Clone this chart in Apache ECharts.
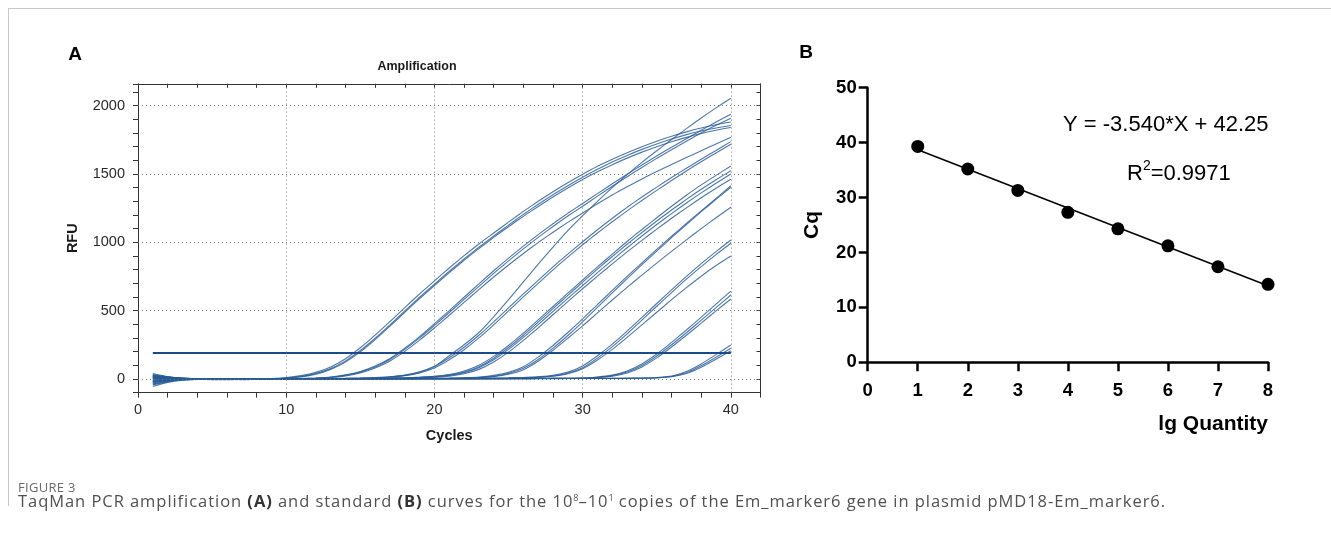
<!DOCTYPE html>
<html>
<head>
<meta charset="utf-8">
<title>Figure 3</title>
<script src="https://cdn.jsdelivr.net/npm/echarts@6/dist/echarts.min.js"></script>
<style>
  html, body { margin: 0; padding: 0; background: #fff; }
  #page { position: relative; width: 1331px; height: 533px; overflow: hidden; }
  #chart { position: absolute; left: 0; top: 0; width: 1331px; height: 533px; }
  #frame { position: absolute; left: 8px; top: 8px; width: 1330px; height: 497px; border-top: 1px solid #c8c8c8; border-left: 1px solid #c8c8c8; pointer-events: none; }
  #figure-label { position: absolute; left: 18px; top: 478px; font: 13px "Open Sans", sans-serif; color: #6a6a6a; letter-spacing: 0.3px; }
  #caption { position: absolute; left: 18px; top: 489px; font: 16.5px "Open Sans", sans-serif; color: #505050; letter-spacing: 0.95px; white-space: nowrap; }
  #caption b { color: #333; }
  #caption sup { font-size: 9px; vertical-align: 6px; line-height: 0; letter-spacing: 0; }
</style>
</head>
<body>
<div id="page">
  <div id="chart"></div>
  <div id="frame"></div>
  <div id="figure-label">FIGURE 3</div>
  <div id="caption">TaqMan PCR amplification <b>(A)</b> and standard <b>(B)</b> curves for the 10<sup>8</sup>–10<sup>1</sup> copies of the Em_marker6 gene in plasmid pMD18-Em_marker6.</div>
</div>
<script>
(() => {
    // panel A: amplification curves, RFU per cycle (cycles 1..40), 3-4 replicates per dilution
    const cycles = [1, 2, 3, 4, 5, 6, 7, 8, 9, 10, 11, 12, 13, 14, 15, 16, 17, 18, 19, 20,
        21, 22, 23, 24, 25, 26, 27, 28, 29, 30, 31, 32, 33, 34, 35, 36, 37, 38, 39, 40];
    const rfuCopies1e8 = [
        [28, 14, 5, 1, -2, -4, -3, -1, 3, 10, 24, 48, 88, 148, 228, 320, 420, 522, 622, 718,
            812, 902, 988, 1068, 1148, 1226, 1300, 1370, 1436, 1498, 1556, 1608, 1656, 1700, 1740, 1776, 1808, 1836, 1860, 1880],
        [-20, -8, -2, 0, -1, -3, -4, -2, 1, 7, 18, 40, 76, 132, 208, 298, 396, 498, 598, 694,
            788, 878, 964, 1046, 1126, 1204, 1278, 1348, 1414, 1476, 1534, 1588, 1636, 1680, 1720, 1756, 1788, 1814, 1836, 1855],
        [8, 3, 0, -2, -5, -6, -4, -2, 0, 5, 15, 35, 70, 124, 198, 288, 386, 488, 588, 684,
            778, 868, 954, 1036, 1114, 1190, 1262, 1332, 1398, 1460, 1516, 1568, 1616, 1660, 1700, 1736, 1768, 1796, 1820, 1840]
    ];
    const rfuCopies1e7 = [
        [-35, -15, -5, -1, 1, 0, -2, -3, -2, 0, 3, 7, 14, 30, 55, 95, 150, 225, 310, 405,
            500, 598, 696, 792, 884, 972, 1056, 1136, 1212, 1284, 1356, 1428, 1498, 1566, 1632, 1696, 1758, 1820, 1880, 1937],
        [20, 9, 3, 0, -1, -2, -3, -2, -1, 1, 3, 6, 12, 26, 50, 88, 142, 216, 300, 392,
            486, 582, 678, 772, 864, 952, 1036, 1116, 1192, 1264, 1338, 1410, 1480, 1548, 1614, 1678, 1740, 1800, 1856, 1908],
        [-5, -3, -1, 0, -2, -4, -5, -3, -1, 0, 2, 5, 10, 22, 44, 80, 132, 202, 284, 374,
            466, 560, 654, 746, 834, 918, 998, 1074, 1146, 1214, 1282, 1346, 1406, 1464, 1518, 1570, 1620, 1670, 1720, 1769]
    ];
    const rfuCopies1e6 = [
        [33, 16, 6, 2, 0, -2, -3, -3, -2, -1, 0, 1, 2, 3, 5, 8, 14, 26, 48, 90,
            170, 250, 340, 455, 580, 710, 840, 965, 1085, 1195, 1300, 1400, 1495, 1585, 1670, 1752, 1832, 1910, 1984, 2054],
        [-45, -20, -7, -2, 0, 1, 0, -1, -2, -1, 0, 1, 2, 4, 6, 10, 16, 28, 52, 92,
            155, 232, 320, 418, 520, 622, 722, 820, 914, 1004, 1092, 1176, 1256, 1332, 1404, 1474, 1542, 1608, 1672, 1737],
        [12, 5, 1, -1, -3, -4, -3, -2, 0, 1, 2, 2, 3, 4, 6, 9, 14, 24, 44, 80,
            140, 214, 300, 396, 498, 600, 700, 798, 892, 982, 1068, 1150, 1230, 1306, 1380, 1452, 1522, 1590, 1654, 1717]
    ];
    const rfuCopies1e5 = [
        [-25, -10, -3, 0, 1, 0, -1, -2, -1, 0, 1, 1, 2, 2, 3, 4, 6, 9, 13, 20,
            32, 58, 100, 165, 245, 335, 432, 530, 628, 724, 820, 914, 1006, 1094, 1180, 1264, 1344, 1420, 1490, 1558],
        [5, 2, 0, -1, -2, -3, -2, -1, 0, 0, 1, 1, 2, 2, 3, 3, 5, 7, 11, 17,
            28, 50, 90, 152, 230, 320, 416, 514, 612, 708, 804, 896, 986, 1072, 1156, 1236, 1314, 1388, 1458, 1524],
        [-55, -25, -9, -3, -1, -2, -3, -3, -2, -1, 0, 0, 1, 1, 2, 2, 4, 6, 10, 15,
            25, 45, 82, 140, 216, 304, 398, 494, 590, 684, 778, 870, 960, 1046, 1130, 1210, 1288, 1362, 1432, 1500],
        [15, 6, 2, 0, -1, -1, 0, 0, -1, -1, 0, 0, 1, 1, 2, 3, 4, 5, 8, 12,
            20, 38, 70, 124, 196, 282, 374, 470, 566, 660, 752, 842, 930, 1014, 1096, 1176, 1252, 1326, 1396, 1461]
    ];
    const rfuCopies1e4 = [
        [22, 10, 3, 1, 0, -1, -1, 0, 1, 1, 1, 1, 1, 1, 2, 2, 3, 3, 4, 5,
            6, 9, 14, 26, 48, 90, 160, 245, 340, 440, 544, 648, 750, 850, 948, 1044, 1138, 1230, 1322, 1414],
        [-12, -5, -1, 0, 0, -1, -2, -2, -1, 0, 0, 1, 1, 1, 2, 2, 2, 3, 3, 4,
            5, 7, 11, 20, 40, 78, 142, 225, 318, 418, 524, 630, 734, 836, 936, 1034, 1130, 1224, 1314, 1403],
        [40, 18, 6, 2, 0, 0, 1, 1, 0, 0, 0, 0, 1, 1, 1, 2, 2, 2, 3, 3,
            4, 6, 9, 17, 34, 68, 130, 210, 298, 388, 484, 578, 670, 760, 848, 934, 1018, 1100, 1180, 1256]
    ];
    const rfuCopies1e3 = [
        [-30, -12, -4, -1, 0, 0, -1, -1, 0, 1, 1, 1, 0, 0, 1, 1, 2, 2, 2, 3,
            3, 4, 5, 6, 8, 11, 16, 26, 50, 95, 170, 255, 350, 450, 552, 652, 750, 844, 932, 1017],
        [8, 3, 1, 0, -1, -2, -2, -1, 0, 0, 1, 1, 1, 1, 1, 2, 2, 2, 3, 3,
            3, 4, 4, 5, 6, 9, 13, 22, 42, 82, 152, 236, 330, 430, 532, 632, 730, 822, 910, 993],
        [-18, -7, -2, 0, 1, 1, 0, -1, -2, -2, -1, -1, 0, 0, 1, 1, 1, 2, 2, 2,
            3, 3, 4, 5, 6, 8, 12, 20, 38, 74, 138, 216, 304, 396, 488, 580, 668, 752, 830, 900]
    ];
    const rfuCopies1e2 = [
        [26, 12, 4, 1, 0, -1, -1, 0, 0, 1, 1, 1, 1, 0, 0, 0, 1, 1, 1, 2,
            2, 2, 3, 3, 3, 4, 4, 5, 5, 6, 14, 28, 58, 110, 182, 268, 358, 452, 548, 643],
        [-8, -3, -1, 0, 0, 0, -1, -1, -1, 0, 0, 0, 1, 1, 1, 1, 1, 1, 2, 2,
            2, 2, 2, 3, 3, 3, 4, 4, 5, 6, 12, 24, 50, 98, 168, 250, 338, 430, 522, 614],
        [-40, -18, -6, -2, -1, -1, -2, -2, -1, 0, 0, 0, 0, 1, 1, 1, 1, 1, 1, 2,
            2, 2, 2, 2, 3, 3, 3, 4, 4, 5, 10, 20, 44, 88, 154, 234, 320, 408, 498, 585]
    ];
    const rfuCopies1e1 = [
        [18, 8, 2, 0, -1, -2, -1, 0, 0, 0, 1, 1, 1, 0, 0, 0, 0, 1, 1, 1,
            1, 1, 2, 2, 2, 2, 3, 3, 3, 3, 4, 4, 5, 7, 11, 22, 55, 110, 178, 248],
        [-22, -9, -3, -1, 0, 0, 0, -1, -1, -1, 0, 0, 0, 0, 1, 1, 1, 1, 1, 1,
            1, 2, 2, 2, 2, 2, 3, 3, 3, 3, 3, 4, 5, 6, 9, 18, 46, 96, 158, 224],
        [2, 1, 0, 0, -1, -1, -1, -1, 0, 0, 0, 0, 1, 1, 1, 1, 1, 1, 1, 1,
            1, 1, 1, 2, 2, 2, 2, 2, 3, 3, 3, 3, 4, 5, 8, 16, 40, 86, 144, 206]
    ];
    const thresholdLine = [[1, 190], [40, 190]];
    const gridCycles = [10, 20, 30, 40];
    const gridRfu = [0, 500, 1000, 1500, 2000];

    // panel B: standard curve
    const lgQuantity = [1, 2, 3, 4, 5, 6, 7, 8];
    const cqValues = [39.3, 35.2, 31.3, 27.3, 24.3, 21.2, 17.4, 14.2];
    const fitLine = [[1, 38.71], [8, 13.93]];
    const equationText = 'Y = -3.540*X + 42.25';
    const rSquaredText = '0.9971';

    const fontFamily = '"Liberation Sans", Arial, sans-serif';
    const curveColor = 'rgba(38, 90, 150, 0.82)';
    const allCurves = [].concat(rfuCopies1e8, rfuCopies1e7, rfuCopies1e6, rfuCopies1e5,
        rfuCopies1e4, rfuCopies1e3, rfuCopies1e2, rfuCopies1e1);

    function toPoints(values) {
        return values.map((value, index) => [cycles[index], value]);
    }

    const curveSeries = allCurves.map((values) => ({
        type: 'line',
        xAxisIndex: 0,
        yAxisIndex: 0,
        data: toPoints(values),
        showSymbol: false,
        smooth: 0.2,
        silent: true,
        z: 3,
        lineStyle: { color: curveColor, width: 1.1 }
    }));

    const chart = echarts.init(document.querySelector('#chart'), null, { renderer: 'canvas' });
    chart.setOption({
        animation: false,
        backgroundColor: 'transparent',
        grid: [
            { left: 138, top: 83.8, width: 622.5, height: 308.8, containLabel: false, outerBoundsMode: 'none' },
            { left: 867.7, top: 87.7, width: 400.3, height: 274.6, containLabel: false, outerBoundsMode: 'none' }
        ],
        xAxis: [
            {
                gridIndex: 0,
                type: 'value',
                position: 'bottom',
                min: 0,
                max: 42,
                interval: 2,
                axisLine: { show: true, onZero: false, lineStyle: { color: '#333', width: 1 } },
                axisTick: { show: true, length: 5, lineStyle: { color: '#333' } },
                axisLabel: {
                    formatter: (v) => (v % 10 === 0 ? String(v) : ''),
                    margin: 10,
                    fontSize: 14.5,
                    color: '#2a2a2a',
                    fontFamily
                },
                splitLine: { show: false },
                name: 'Cycles',
                nameLocation: 'middle',
                nameGap: 36,
                nameTextStyle: { fontSize: 14.5, fontWeight: 'bold', color: '#1a1a1a', fontFamily }
            },
            {
                gridIndex: 0,
                type: 'value',
                position: 'top',
                min: 0,
                max: 42,
                interval: 2,
                axisLine: { show: true, onZero: false, lineStyle: { color: '#333', width: 1 } },
                axisTick: { show: true, inside: true, length: 4, lineStyle: { color: '#333' } },
                axisLabel: { show: false },
                splitLine: { show: false }
            },
            {
                gridIndex: 1,
                type: 'value',
                min: 0,
                max: 8,
                interval: 1,
                axisLine: { show: true, onZero: false, lineStyle: { color: '#000', width: 2.5 } },
                axisTick: { show: true, length: 9, lineStyle: { color: '#000', width: 2.5 } },
                axisLabel: { margin: 19, fontSize: 18.5, fontWeight: 'bold', color: '#000', fontFamily },
                splitLine: { show: false }
            }
        ],
        yAxis: [
            {
                gridIndex: 0,
                type: 'value',
                position: 'left',
                min: -100,
                max: 2160,
                interval: 100,
                axisLine: { show: true, onZero: false, lineStyle: { color: '#333', width: 1 } },
                axisTick: { show: true, length: 5, lineStyle: { color: '#333' } },
                axisLabel: {
                    formatter: (v) => (v % 500 === 0 ? String(v) : ''),
                    margin: 13,
                    fontSize: 14.5,
                    color: '#2a2a2a',
                    fontFamily
                },
                splitLine: { show: false },
                name: 'RFU',
                nameLocation: 'middle',
                nameRotate: 90,
                nameGap: 58,
                nameTextStyle: { fontSize: 14.5, fontWeight: 'bold', color: '#1a1a1a', fontFamily }
            },
            {
                gridIndex: 0,
                type: 'value',
                position: 'right',
                min: -100,
                max: 2160,
                interval: 100,
                axisLine: { show: true, onZero: false, lineStyle: { color: '#333', width: 1 } },
                axisTick: { show: true, inside: true, length: 4, lineStyle: { color: '#333' } },
                axisLabel: { show: false },
                splitLine: { show: false }
            },
            {
                gridIndex: 1,
                type: 'value',
                min: 0,
                max: 50,
                interval: 10,
                axisLine: { show: true, onZero: false, lineStyle: { color: '#000', width: 2.5 } },
                axisTick: { show: true, length: 9, lineStyle: { color: '#000', width: 2.5 } },
                axisLabel: { margin: 11, fontSize: 18.5, fontWeight: 'bold', color: '#000', fontFamily },
                splitLine: { show: false },
                name: 'Cq',
                nameLocation: 'middle',
                nameRotate: 90,
                nameGap: 45,
                nameTextStyle: { fontSize: 21, fontWeight: 'bold', color: '#000', fontFamily }
            }
        ],
        series: [
            {
                // dotted grid of panel A
                type: 'line',
                xAxisIndex: 0,
                yAxisIndex: 0,
                data: [],
                z: 1,
                markLine: {
                    silent: true,
                    symbol: ['none', 'none'],
                    label: { show: false },
                    lineStyle: { color: '#777', width: 1, type: [1, 3] },
                    data: gridCycles.map((c) => ({ xAxis: c }))
                        .concat(gridRfu.map((r) => ({ yAxis: r })))
                }
            },
            ...curveSeries,
            {
                type: 'line',
                xAxisIndex: 0,
                yAxisIndex: 0,
                data: thresholdLine,
                showSymbol: false,
                silent: true,
                z: 4,
                lineStyle: { color: '#1a4a88', width: 2.2 }
            },
            {
                type: 'line',
                xAxisIndex: 2,
                yAxisIndex: 2,
                data: fitLine,
                showSymbol: false,
                silent: true,
                lineStyle: { color: '#000', width: 1.5 }
            },
            {
                type: 'scatter',
                xAxisIndex: 2,
                yAxisIndex: 2,
                data: lgQuantity.map((x, i) => [x, cqValues[i]]),
                symbolSize: 13,
                clip: false,
                silent: true,
                z: 5,
                itemStyle: { color: '#000', opacity: 1 }
            }
        ],
        graphic: [
            {
                type: 'text', x: 75, y: 55,
                style: { text: 'A', font: 'bold 19px ' + fontFamily, fill: '#000', align: 'center', verticalAlign: 'middle' }
            },
            {
                type: 'text', x: 806, y: 53,
                style: { text: 'B', font: 'bold 19px ' + fontFamily, fill: '#000', align: 'center', verticalAlign: 'middle' }
            },
            {
                type: 'text', x: 417, y: 67,
                style: { text: 'Amplification', font: 'bold 12.5px ' + fontFamily, fill: '#1a1a1a', align: 'center', verticalAlign: 'middle' }
            },
            {
                type: 'text', x: 1063, y: 125,
                style: { text: equationText, font: '22px ' + fontFamily, fill: '#000', align: 'left', verticalAlign: 'middle' }
            },
            {
                type: 'text', x: 1127, y: 172,
                style: {
                    text: '{a|R}{s|2}{a|=' + rSquaredText + '}',
                    align: 'left',
                    verticalAlign: 'middle',
                    rich: {
                        a: { fontSize: 22, fontFamily, fill: '#000', color: '#000', lineHeight: 26, verticalAlign: 'bottom' },
                        s: { fontSize: 14, fontFamily, fill: '#000', color: '#000', lineHeight: 26, verticalAlign: 'top' }
                    }
                }
            },
            {
                type: 'text', x: 1268, y: 424,
                style: { text: 'lg Quantity', font: 'bold 21px ' + fontFamily, fill: '#000', align: 'right', verticalAlign: 'middle' }
            }
        ]
    });
})();
</script>
</body>
</html>
